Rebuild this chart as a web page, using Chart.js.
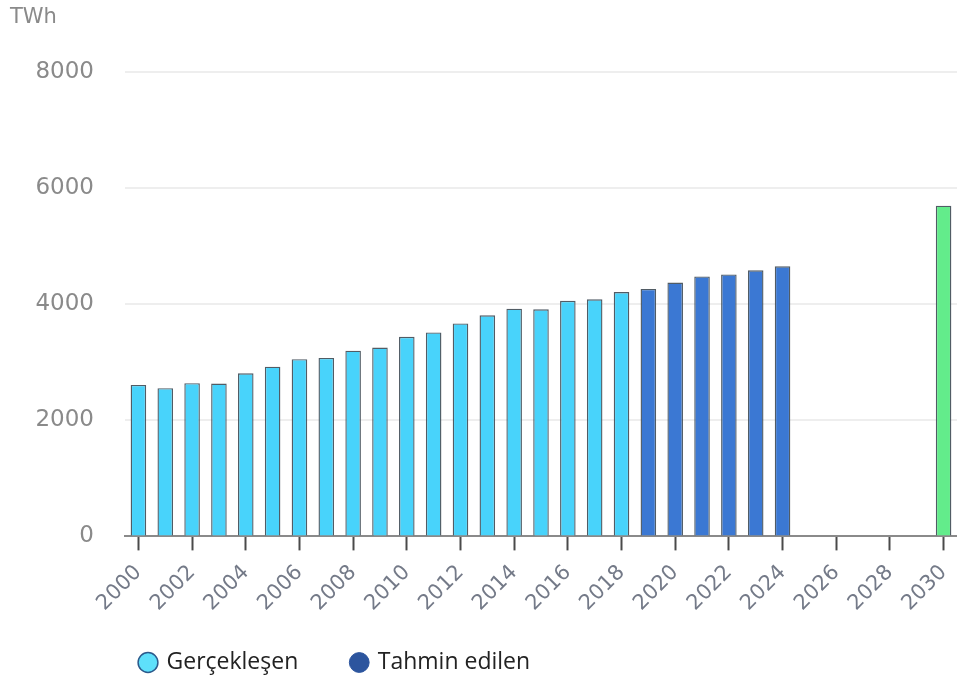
<!DOCTYPE html>
<html>
<head>
<meta charset="utf-8">
<script src="https://cdn.jsdelivr.net/npm/chart.js@4.4.1/dist/chart.umd.min.js"></script>
<style>
  body { margin: 0; background: #fff; }
  #wrap { width: 957px; height: 686px; }
</style>
</head>
<body>
<div id="wrap"><canvas id="energy-chart"></canvas></div>
<script>
// categories
const years = ['2000', '2001', '2002', '2003', '2004', '2005', '2006', '2007', '2008', '2009',
  '2010', '2011', '2012', '2013', '2014', '2015', '2016', '2017', '2018', '2019',
  '2020', '2021', '2022', '2023', '2024', '2025', '2026', '2027', '2028', '2029', '2030'];

// realised 2000-2018 (TWh)
const actualYears = ['2000', '2001', '2002', '2003', '2004', '2005', '2006', '2007', '2008', '2009',
  '2010', '2011', '2012', '2013', '2014', '2015', '2016', '2017', '2018'];
const actualValues = [2610, 2555, 2640, 2635, 2810, 2925, 3055, 3075, 3200, 3255,
  3440, 3515, 3670, 3810, 3925, 3915, 4060, 4085, 4210];

// estimated 2019-2024
const estYears = ['2019', '2020', '2021', '2022', '2023', '2024'];
const estValues = [4265, 4375, 4480, 4515, 4585, 4655];

// 2030 target
const targetYears = ['2030'];
const targetValues = [5700];

const yTicks = [0, 2000, 4000, 6000, 8000];

const seriesLabels = ['Gerçekleşen', 'Tahmin edilen', 'Hedef'];

// map a (years, values) pair onto the full category list
function alignTo(cats, ys, vals) {
  return cats.map(c => {
    const i = ys.indexOf(c);
    return i === -1 ? null : vals[i];
  });
}

// put the legend where the original has it (left-ish, near the bottom)
const legendShift = {
  id: 'legendShift',
  beforeDraw(chart) {
    chart.legend.left = 87;
    chart.legend.top = 597;
  }
};

const barBorder = 'rgba(62, 74, 84, 0.9)';

new Chart(document.getElementById('energy-chart'), {
  type: 'bar',
  data: {
    labels: years,
    datasets: [
      {
        label: seriesLabels[0],
        data: alignTo(years, actualYears, actualValues),
        backgroundColor: '#48d3fb',
        borderColor: barBorder,
        borderWidth: 1.4,
      },
      {
        label: seriesLabels[1],
        data: alignTo(years, estYears, estValues),
        backgroundColor: '#3b78d3',
        borderColor: barBorder,
        borderWidth: 1.4,
      },
      {
        label: seriesLabels[2],
        data: alignTo(years, targetYears, targetValues),
        backgroundColor: '#63ec8b',
        borderColor: barBorder,
        borderWidth: 1.4,
      },
    ],
  },
  options: {
    responsive: true,
    maintainAspectRatio: false,
    animation: false,
    layout: { padding: { left: 10, right: 0, top: 0, bottom: 0 } },
    datasets: {
      bar: { grouped: false, barPercentage: 0.58, categoryPercentage: 1 },
    },
    plugins: {
      title: {
        display: true,
        text: 'TWh',
        align: 'start',
        color: '#8a8a8a',
        font: { family: 'DejaVu Sans', size: 21, weight: 'normal' },
        padding: { top: 5, bottom: 42 },
      },
      legend: {
        position: 'bottom',
        align: 'start',
        maxHeight: 60,
        labels: {
          usePointStyle: true,
          pointStyle: 'circle',
          boxWidth: 14,
          boxHeight: 14,
          padding: 54,
          color: '#222',
          font: { family: 'Open Sans', size: 23 },
          filter: item => item.datasetIndex < 2,
          generateLabels(chart) {
            const items = Chart.defaults.plugins.legend.labels.generateLabels(chart);
            items.forEach(it => {
              if (it.datasetIndex === 0) {
                it.fillStyle = '#5ee0fb';
                it.strokeStyle = '#2c5a8c';
                it.lineWidth = 1.5;
              } else {
                it.fillStyle = '#2c559e';
                it.strokeStyle = '#2c559e';
                it.lineWidth = 1;
              }
            });
            return items;
          },
        },
      },
      tooltip: { enabled: false },
    },
    scales: {
      x: {
        afterFit(scale) {
          scale.paddingRight = 0;
        },
        grid: {
          display: true,
          drawOnChartArea: false,
          offset: false,
          tickLength: 14,
          tickWidth: 2,
          tickColor: ctx => (ctx.index % 2 === 0 ? '#4a4a4a' : 'rgba(0,0,0,0)'),
        },
        border: { color: '#8a8a8a', width: 2 },
        ticks: {
          autoSkip: false,
          maxRotation: 45,
          minRotation: 45,
          padding: 10,
          color: '#747a88',
          font: { family: 'DejaVu Sans', size: 21 },
          callback: function (val, index) {
            return index % 2 === 0 ? this.getLabelForValue(val) : '';
          },
        },
      },
      y: {
        min: yTicks[0],
        max: yTicks[yTicks.length - 1],
        afterFit(scale) { scale.width = 115; },
        afterBuildTicks(scale) { scale.ticks = yTicks.map(v => ({ value: v })); },
        grid: { color: '#eeeeee', lineWidth: 2, drawTicks: false },
        border: { display: false },
        ticks: {
          padding: 31,
          color: '#8a8a8a',
          font: { family: 'DejaVu Sans', size: 23 },
          callback: v => String(v),
        },
      },
    },
  },
  plugins: [legendShift],
});
</script>
</body>
</html>
